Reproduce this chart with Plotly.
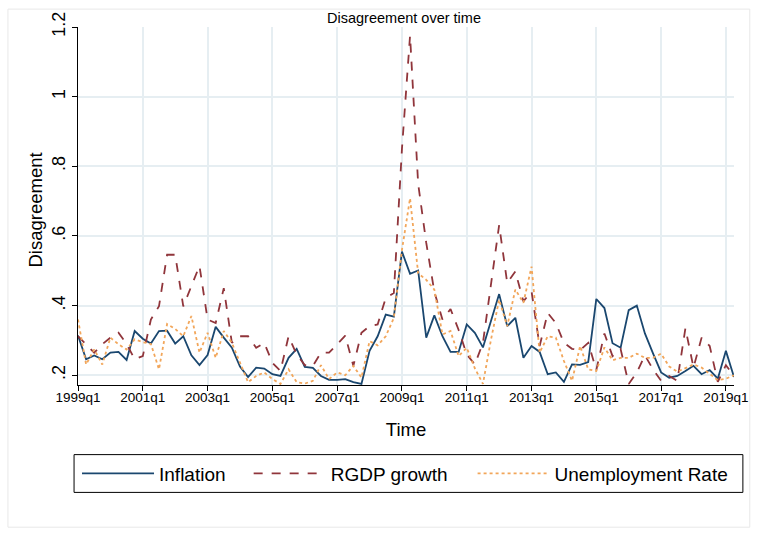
import plotly.graph_objects as go

# Quarters 1999q1 .. 2019q2
quarters = [f"{y}q{q}" for y in range(1999, 2020) for q in range(1, 5)][:82]

tick_labels = ["1999q1", "2001q1", "2003q1", "2005q1", "2007q1", "2009q1",
               "2011q1", "2013q1", "2015q1", "2017q1", "2019q1"]
y_ticks = [0.2, 0.4, 0.6, 0.8, 1.0, 1.2]
y_tick_text = [".2", ".4", ".6", ".8", "1", "1.2"]

inflation = [0.314, 0.246, 0.257, 0.246, 0.265, 0.267, 0.244, 0.327, 0.305, 0.291,
             0.327, 0.328, 0.291, 0.312, 0.257, 0.229, 0.258, 0.339, 0.308, 0.279,
             0.225, 0.195, 0.222, 0.219, 0.203, 0.198, 0.250, 0.276, 0.224, 0.221,
             0.198, 0.187, 0.187, 0.189, 0.180, 0.175, 0.270, 0.312, 0.374, 0.368,
             0.555, 0.491, 0.501, 0.308, 0.372, 0.312, 0.267, 0.267, 0.346, 0.322,
             0.280, 0.360, 0.433, 0.341, 0.365, 0.250, 0.284, 0.267, 0.203, 0.208,
             0.181, 0.231, 0.230, 0.238, 0.419, 0.393, 0.292, 0.279, 0.387, 0.400,
             0.320, 0.263, 0.208, 0.193, 0.198, 0.212, 0.227, 0.203, 0.215, 0.190,
             0.270, 0.195]

rgdp = [0.312, 0.289, 0.265, 0.289, 0.308, 0.322, 0.290, 0.246, 0.255, 0.360,
        0.398, 0.546, 0.546, 0.398, 0.455, 0.514, 0.360, 0.350, 0.450, 0.293,
        0.312, 0.312, 0.279, 0.293, 0.236, 0.212, 0.312, 0.260, 0.229, 0.227,
        0.265, 0.265, 0.289, 0.314, 0.227, 0.322, 0.341, 0.346, 0.422, 0.436,
        0.850, 1.175, 0.750, 0.580, 0.440, 0.360, 0.390, 0.330, 0.260, 0.231,
        0.293, 0.465, 0.631, 0.465, 0.498, 0.412, 0.441, 0.284, 0.379, 0.350,
        0.293, 0.276, 0.272, 0.293, 0.215, 0.320, 0.255, 0.275, 0.175, 0.208,
        0.257, 0.217, 0.184, 0.198, 0.184, 0.335, 0.222, 0.308, 0.284, 0.181,
        0.229, 0.198]

unemployment = [0.360, 0.231, 0.274, 0.231, 0.308, 0.289, 0.274, 0.303, 0.295, 0.290,
                0.217, 0.347, 0.333, 0.312, 0.370, 0.265, 0.322, 0.250, 0.327, 0.293,
                0.236, 0.180, 0.198, 0.208, 0.189, 0.175, 0.217, 0.180, 0.176, 0.184,
                0.229, 0.189, 0.208, 0.200, 0.227, 0.193, 0.298, 0.286, 0.312, 0.365,
                0.560, 0.708, 0.493, 0.474, 0.446, 0.317, 0.327, 0.255, 0.279, 0.220,
                0.175, 0.303, 0.417, 0.341, 0.446, 0.408, 0.512, 0.265, 0.312, 0.308,
                0.241, 0.184, 0.284, 0.217, 0.212, 0.280, 0.243, 0.250, 0.250, 0.262,
                0.250, 0.250, 0.262, 0.225, 0.210, 0.220, 0.231, 0.222, 0.203, 0.186,
                0.190, 0.200]

FONT = "Liberation Sans, Arial, Helvetica, sans-serif"

fig = go.Figure()
fig.add_trace(go.Scatter(x=quarters, y=inflation, mode="lines", name="Inflation",
                         legend="legend",
                         line=dict(color="#1a476f", width=1.8, dash="solid")))
fig.add_trace(go.Scatter(x=quarters, y=rgdp, mode="lines", name="RGDP growth",
                         legend="legend2",
                         line=dict(color="#90353b", width=1.8, dash="dash")))
fig.add_trace(go.Scatter(x=quarters, y=unemployment, mode="lines", name="Unemployment Rate",
                         legend="legend3",
                         line=dict(color="#f2a65a", width=1.8, dash="dot")))

L, R, T, B = 78, 17, 25, 149
W, H = 760, 534
pw = W - L - R
ph = H - T - B

def px(xp):
    return (xp - L) / pw

def py(yp):
    return (H - B - yp) / ph

def leg(xpos):
    return dict(orientation="h", x=px(xpos), y=py(474), xanchor="left", yanchor="middle",
                font=dict(size=19), bgcolor="rgba(0,0,0,0)", itemwidth=72)

fig.update_layout(
    width=W, height=H,
    margin=dict(l=L, r=R, t=T, b=B),
    paper_bgcolor="white", plot_bgcolor="white",
    font=dict(family=FONT, color="black"),
    title=dict(text="Disagreement over time", xref="container", x=404 / W, xanchor="center",
               y=1 - 18 / H, yanchor="middle", font=dict(size=14.5, color="black")),
    showlegend=True,
    legend=leg(77),
    legend2=leg(251),
    legend3=leg(478),
    shapes=[
        dict(type="rect", xref="paper", yref="paper", x0=px(74), x1=px(752),
             y0=py(455), y1=py(493), line=dict(color="black", width=1)),
        dict(type="rect", xref="paper", yref="paper", x0=px(7), x1=px(759),
             y0=py(7), y1=py(528), line=dict(color="#e8e8e8", width=1), layer="below"),
    ],
    annotations=[
        dict(text="Disagreement", xref="paper", yref="paper", x=px(35), y=py(209),
             xanchor="center", yanchor="middle", textangle=-90, showarrow=False,
             font=dict(size=18.5, color="black")),
    ],
)

fig.update_xaxes(
    type="category", categoryorder="array", categoryarray=quarters,
    range=[0, 81], tickmode="array", tickvals=tick_labels, ticktext=tick_labels,
    showgrid=True, gridcolor="#e6eef2", gridwidth=1.5,
    showline=True, linecolor="black", linewidth=1,
    ticks="outside", ticklen=5, tickcolor="black",
    tickfont=dict(size=13.5), zeroline=False, ticklabelstandoff=-5,
    title=dict(text="Time", font=dict(size=18.5), standoff=18),
)
fig.update_yaxes(
    range=[0.172, 1.2], tickmode="array", tickvals=y_ticks, ticktext=y_tick_text,
    tickangle=-90, tickfont=dict(size=18), ticklabelstandoff=0,
    showgrid=True, gridcolor="#e6eef2", gridwidth=1.5,
    showline=True, linecolor="black", linewidth=1,
    ticks="outside", ticklen=5, tickcolor="black", zeroline=False,
)

fig.write_html("out.html", config={"displayModeBar": False},
               post_script="document.body.style.margin='0';")
